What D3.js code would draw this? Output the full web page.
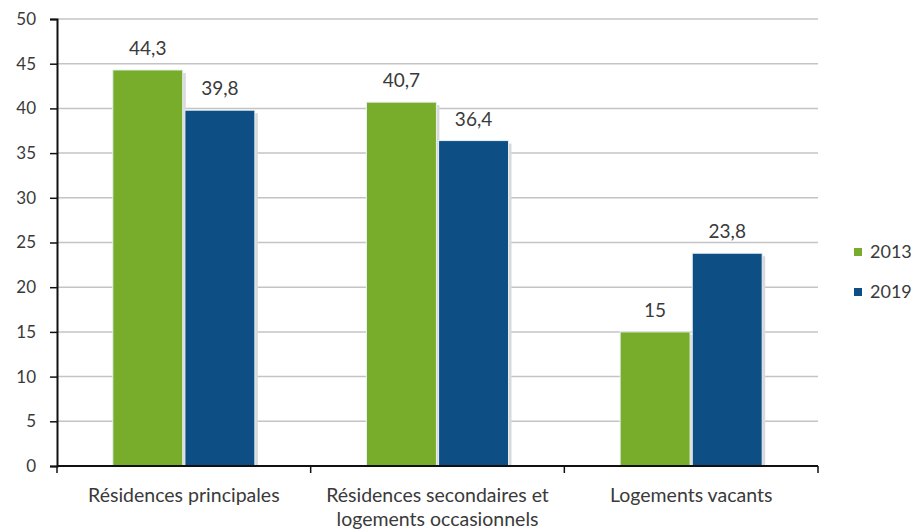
<!DOCTYPE html>
<html>
<head>
<meta charset="utf-8">
<script src="https://cdn.jsdelivr.net/npm/d3@7"></script>
<style>
  body { margin: 0; background: #fff; }
  text { font-family: Lato, "Open Sans", sans-serif; fill: #3a3a3a; }
</style>
</head>
<body>
<div id="chart"></div>
<script>
// data
const categories = [
  ['Résidences principales'],
  ['Résidences secondaires et', 'logements occasionnels'],
  ['Logements vacants']
];
const years = ['2013', '2019'];
const values2013 = [44.3, 40.7, 15];
const values2019 = [39.8, 36.4, 23.8];
const yTicks = [0, 5, 10, 15, 20, 25, 30, 35, 40, 45, 50];
const colors = ['#77ad2b', '#0d4e84'];

const width = 913, height = 530;
const margin = { top: 19, right: 95, bottom: 64, left: 57 };
const innerW = width - margin.left - margin.right;
const innerH = height - margin.top - margin.bottom;

const svg = d3.select('#chart').append('svg')
  .attr('width', width)
  .attr('height', height);

const plot = svg.append('g')
  .attr('transform', `translate(${margin.left},${margin.top})`);

const x = d3.scaleBand()
  .domain(d3.range(categories.length))
  .range([0, innerW])
  .paddingInner(0)
  .paddingOuter(0);

const inner = 0.22;
const x1 = d3.scaleBand()
  .domain(years)
  .range([x.bandwidth() * inner, x.bandwidth() * (1 - inner)])
  .paddingInner(0.03);

const y = d3.scaleLinear().domain([0, 50]).range([innerH, 0]);

// gridlines
plot.append('g')
  .selectAll('line')
  .data(yTicks.filter(d => d > 0))
  .enter().append('line')
    .attr('x1', 0)
    .attr('x2', innerW)
    .attr('y1', d => y(d))
    .attr('y2', d => y(d))
    .attr('stroke', '#c4c4c4')
    .attr('stroke-width', 1.5);

const series = years.map((yr, i) => ({
  year: yr,
  values: i === 0 ? values2013 : values2019,
  color: colors[i]
}));

const groups = plot.selectAll('.grp')
  .data(series)
  .enter().append('g')
  .attr('class', 'grp');

// soft shadow to the right of each bar
groups.selectAll('.shadow')
  .data(s => s.values.map((v, i) => ({ v, i, s })))
  .enter().append('rect')
    .attr('x', d => x(d.i) + x1(d.s.year) + 3)
    .attr('y', d => y(d.v) + 3)
    .attr('width', x1.bandwidth())
    .attr('height', d => innerH - y(d.v) - 3)
    .attr('fill', '#d9d9d9');

groups.selectAll('.bar')
  .data(s => s.values.map((v, i) => ({ v, i, s })))
  .enter().append('rect')
    .attr('class', 'bar')
    .attr('x', d => x(d.i) + x1(d.s.year))
    .attr('y', d => y(d.v))
    .attr('width', x1.bandwidth())
    .attr('height', d => innerH - y(d.v))
    .attr('fill', d => d.s.color)
    .attr('stroke', '#e8f0f6')
    .attr('stroke-width', 1);

// value labels
groups.selectAll('.val')
  .data(s => s.values.map((v, i) => ({ v, i, s })))
  .enter().append('text')
    .attr('x', d => x(d.i) + x1(d.s.year) + x1.bandwidth() / 2)
    .attr('y', d => y(d.v) - 15)
    .attr('text-anchor', 'middle')
    .style('font-size', '19px')
    .text(d => String(d.v).replace('.', ','));

// y axis
const yAxis = d3.axisLeft(y)
  .tickValues(yTicks)
  .tickSize(7)
  .tickPadding(14);

const gy = plot.append('g').call(yAxis);
gy.select('.domain').attr('stroke', '#111').attr('stroke-width', 2);
gy.selectAll('.tick line').attr('stroke', '#111').attr('stroke-width', 1.5);
gy.selectAll('.tick text')
  .style('font-size', '17px')
  .style('font-family', 'Lato, "Open Sans", sans-serif')
  .attr('fill', '#3a3a3a');

// x axis
const gx = plot.append('g').attr('transform', `translate(0,${innerH})`);
gx.append('line')
  .attr('x1', 0).attr('x2', innerW)
  .attr('stroke', '#111').attr('stroke-width', 2);
gx.selectAll('.xtick')
  .data(d3.range(categories.length + 1))
  .enter().append('line')
    .attr('x1', d => d * x.step())
    .attr('x2', d => d * x.step())
    .attr('y1', 0).attr('y2', 7)
    .attr('stroke', '#111').attr('stroke-width', 1.5);

const xl = gx.selectAll('.xl')
  .data(categories)
  .enter().append('text')
    .attr('text-anchor', 'middle')
    .attr('transform', (d, i) => `translate(${x(i) + x.bandwidth() / 2},${36})`)
    .style('font-size', '19.5px');
xl.selectAll('tspan')
  .data(d => d)
  .enter().append('tspan')
    .attr('x', 0)
    .attr('dy', (d, j) => j === 0 ? 0 : 24)
    .text(d => d);

// legend
const legend = svg.append('g')
  .attr('transform', `translate(854,${252})`);
const li = legend.selectAll('g')
  .data(series)
  .enter().append('g')
  .attr('transform', (d, i) => `translate(0,${i * 40})`);
li.append('rect')
  .attr('x', 0).attr('y', -4)
  .attr('width', 8).attr('height', 8)
  .attr('fill', d => d.color);
li.append('text')
  .attr('x', 16)
  .attr('dy', '0.35em')
  .style('font-size', '18px')
  .text(d => d.year);
</script>
</body>
</html>
